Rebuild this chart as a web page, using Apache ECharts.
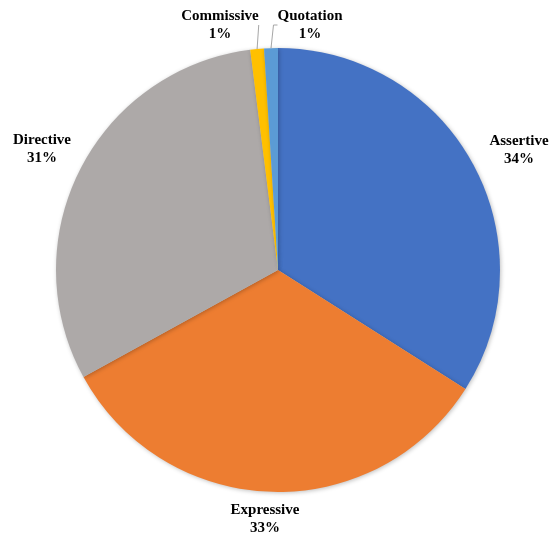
<!DOCTYPE html>
<html>
<head>
<meta charset="utf-8">
<script src="https://cdn.jsdelivr.net/npm/echarts@6/dist/echarts.min.js"></script>
<style>
  html, body { margin: 0; padding: 0; background: #ffffff; }
  #chart { width: 550px; height: 535px; }
</style>
</head>
<body>
<div id="chart"></div>
<script>
// Speech-act categories and their shares (percent)
const categories = ['Assertive', 'Expressive', 'Directive', 'Commissive', 'Quotation'];
const shares = [34, 33, 31, 1, 1];
const colors = ['#4472C4', '#ED7D31', '#ADA9A8', '#FFC000', '#5B9BD5'];

// Label anchor points (centre of each two-line label)
const labelSpots = [
  [519, 150],
  [265, 519],
  [42, 149],
  [220, 25],
  [310, 25]
];

const chart = echarts.init(document.getElementById('chart'));

chart.setOption({
  animation: false,
  backgroundColor: '#ffffff',
  series: [{
    type: 'pie',
    center: [278, 270],
    radius: [0, 222],
    startAngle: 90,
    clockwise: true,
    avoidLabelOverlap: false,
    data: categories.map((name, i) => ({
      name: name,
      value: shares[i],
      itemStyle: { color: colors[i] },
      labelLine: { show: i >= 3 }
    })),
    itemStyle: {
      borderWidth: 0,
      shadowBlur: 4,
      shadowOffsetX: 1,
      shadowOffsetY: 1,
      shadowColor: 'rgba(0,0,0,0.25)'
    },
    label: {
      show: true,
      position: 'outside',
      formatter: '{b}\n{d}%',
      fontFamily: '"Liberation Serif", "Times New Roman", serif',
      fontWeight: 'bold',
      fontSize: 15,
      lineHeight: 18,
      color: '#000000',
      align: 'center'
    },
    labelLine: {
      length: 10,
      length2: 4,
      lineStyle: { color: '#a6a6a6', width: 1 }
    },
    labelLayout: function (params) {
      const p = labelSpots[params.dataIndex];
      return {
        x: p[0],
        y: p[1],
        align: 'center',
        verticalAlign: 'middle'
      };
    }
  }]
});
</script>
</body>
</html>
